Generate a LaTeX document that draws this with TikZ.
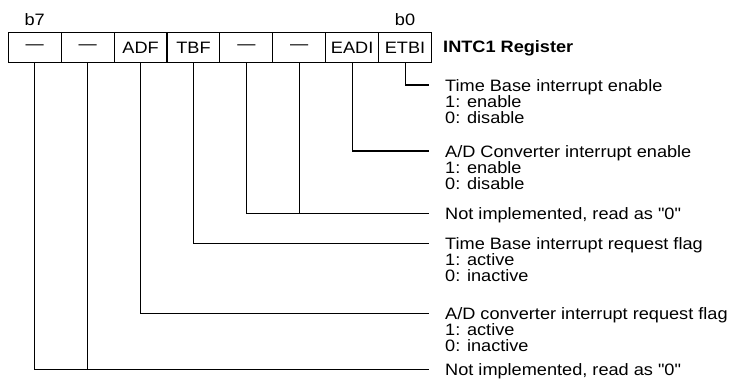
\documentclass[tikz,border=0pt]{standalone}
\usepackage{fontspec}
\setmainfont{Liberation Sans}[FakeStretch=1.1,Ligatures=TeXOff]
\begin{document}
\begin{tikzpicture}[x=1pt,y=-1pt,
  cell/.style={draw,line width=1.1pt,minimum width=52.9pt,minimum height=29.8pt,inner sep=0pt,
    font=\fontsize{16.5}{16}\selectfont},
  desc/.style={anchor=base west,align=left,inner sep=0pt,font=\fontsize{16.5}{16}\selectfont},
  lbl/.style={inner sep=0pt,font=\fontsize{16.5}{16}\selectfont},
  conn/.style={line width=1.1pt}]
\useasboundingbox (0,0) rectangle (734,383);
% register cells
\foreach \i/\t in {7/{—},6/{—},5/ADF,4/TBF,3/{—},2/{—},1/EADI,0/ETBI}{
  \node[cell] (c\i) at ({8.3+52.9*(7-\i)+26.45},47.6) {\t};
}
\node[lbl] (b7) at (c7.north |- 0,20) {b7};
\node[lbl] (b0) at (c0.north |- 0,20) {b0};
\node[lbl,anchor=west,font=\fontsize{16.5}{16}\selectfont\bfseries] (reg) at (443,48) {INTC1 Register};
% end points of connectors
\coordinate (e0) at (429,85);
\coordinate (e1) at (429,151);
\coordinate (e3) at (429,213.3);
\coordinate (e4) at (429,243.3);
\coordinate (e5) at (429,313.3);
\coordinate (e7) at (429,369.5);
% descriptions (base = baseline of last line)
\node[desc] (d0) at (445,123) {Time Base interrupt enable\\1: enable\\0: disable};
\node[desc] (d1) at (445,189) {A/D Converter interrupt enable\\1: enable\\0: disable};
\node[desc] (d3) at (445,219.3) {Not implemented, read as "0"};
\node[desc] (d4) at (445,281.3) {Time Base interrupt request flag\\1: active\\0: inactive};
\node[desc] (d5) at (445,351.3) {A/D converter interrupt request flag\\1: active\\0: inactive};
\node[desc] (d7) at (445,375.5) {Not implemented, read as "0"};
% connectors
\draw[conn] (c0.south) |- (e0);
\draw[conn] (c1.south) |- (e1);
\draw[conn] (c3.south) |- (e3);
\draw[conn] (c2.south) -- (c2.south |- e3);
\draw[conn] (c4.south) |- (e4);
\draw[conn] (c5.south) |- (e5);
\draw[conn] (c7.south) |- (e7);
\draw[conn] (c6.south) -- (c6.south |- e7);
\end{tikzpicture}
\end{document}
